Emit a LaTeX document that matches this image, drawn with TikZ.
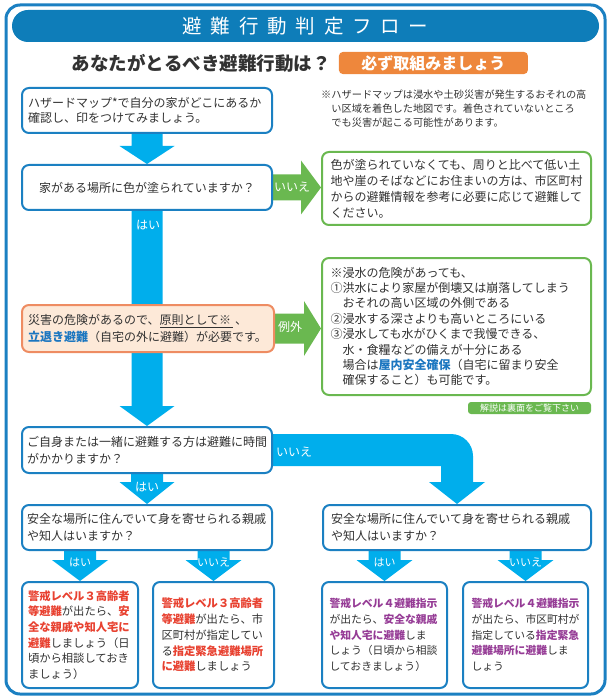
\documentclass[tikz,border=0pt]{standalone}
\usepackage{fontspec}
\setmainfont{Noto Sans CJK JP}
\newfontfamily\spacedcjk[LetterSpace=45]{Noto Sans CJK JP}
\usetikzlibrary{calc,positioning,backgrounds}

\definecolor{frameblue}{RGB}{27,128,194}
\definecolor{titleblue}{RGB}{14,125,185}
\definecolor{flowblue}{RGB}{0,174,236}
\definecolor{okgreen}{RGB}{106,184,80}
\definecolor{badgeorange}{RGB}{238,135,60}
\definecolor{dangerfill}{RGB}{253,233,216}
\definecolor{dangerline}{RGB}{238,140,98}
\definecolor{ink}{RGB}{50,50,50}
\definecolor{keyblue}{RGB}{27,118,192}
\definecolor{warnredc}{RGB}{232,65,48}
\definecolor{warnpurplec}{RGB}{150,60,150}

\newcommand\warnred[1]{\textcolor{warnredc}{\bfseries #1}}
\newcommand\warnpurple[1]{\textcolor{warnpurplec}{\bfseries #1}}
\newcommand\keyterm[1]{\textcolor{keyblue}{\bfseries #1}}

\begin{document}
\begin{tikzpicture}[
        x=1pt, y=-1pt,
        qbox/.style={draw=frameblue, line width=2pt, fill=white, rounded corners=7pt,
            inner sep=0pt, align=left, text=ink},
        gbox/.style={qbox, draw=okgreen},
        obox/.style={qbox, draw=dangerline, fill=dangerfill},
        lbl/.style={text=white, inner sep=0pt, font=\fontsize{12}{12}\selectfont},
        slbl/.style={lbl, font=\fontsize{11}{11}\selectfont},
        mid/.style={font=\fontsize{12}{17}\selectfont},
        small/.style={font=\fontsize{11.3}{15.7}\selectfont},
        narrow/.style={font=\fontsize{10.8}{15.7}\selectfont},
    ]
    \useasboundingbox (0,0) rectangle (611,700);

    % frame and heading
    \draw[frameblue, line width=3pt, rounded corners=14pt] (6,5) rectangle (605,694);
    \node[fill=titleblue, rounded corners=16pt, minimum width=587, minimum height=32,
        text=white, font=\spacedcjk\fontsize{19.5}{19.5}\selectfont] (title) at (305.5,26) {避難行動判定フロー};
    \node[text=ink, font=\bfseries\fontsize{18.5}{18.5}\selectfont, inner sep=0pt] (question) at (201,63) {あなたがとるべき避難行動は？};
    \node[fill=badgeorange, rounded corners=4pt, minimum width=189, minimum height=22, text=white,
        font=\bfseries\fontsize{16}{16}\selectfont, right=8pt of question] (must) {必ず取組みましょう};

    % first questions
    \node[qbox, minimum width=250, minimum height=45, text width=238,
        font=\fontsize{12}{15}\selectfont] (hazard) at (147,110.5)
        {ハザードマップ*で自分の家がどこにあるか\\確認し、印をつけてみましょう。};
    \node[text=ink, align=left, inner sep=0pt, anchor=west, font=\fontsize{10.2}{13.7}\selectfont] (mapnote) at (321,108.5)
        {※ハザードマップは浸水や土砂災害が発生するおそれの高\\
         \hspace*{1em}い区域を着色した地図です。着色されていないところ\\
         \hspace*{1em}でも災害が起こる可能性があります。};
    \node[qbox, align=center, minimum width=250, minimum height=45,
        font=\fontsize{12}{15}\selectfont] (colour) at (147,187.5) {家がある場所に色が塗られていますか？};
    \node[gbox, minimum width=269, minimum height=73, text width=252,
        font=\fontsize{12}{16}\selectfont] (noteA) at (456.5,188.5)
        {色が塗られていなくても、周りと比べて低い土\\地や崖のそばなどにお住まいの方は、市区町村\\
         からの避難情報を参考に必要に応じて避難して\\ください。};

    % evacuation rule and exception
    \node[obox, minimum width=252, minimum height=47, text width=240, mid] (danger) at (148,328.5)
        {災害の危険があるので、原則として※\ 、\\
         \keyterm{立退き避難}（自宅の外に避難）が必要です。};
    \draw[ink, line width=1pt] ($(danger.west)+(139,-1.5)$) -- ($(danger.west)+(212,-1.5)$);
    \node[gbox, minimum width=269, minimum height=137, text width=252,
        font=\fontsize{12}{15.4}\selectfont] (noteB) at (456.5,326.5)
        {※浸水の危険があっても、\\
         ①洪水により家屋が倒壊又は崩落してしまう\\
         \hspace*{1em}おそれの高い区域の外側である\\
         ②浸水する深さよりも高いところにいる\\
         ③浸水しても水がひくまで我慢できる、\\
         \hspace*{1em}水・食糧などの備えが十分にある\\
         \hspace*{1em}場合は\keyterm{屋内安全確保}（自宅に留まり安全\\
         \hspace*{1em}確保すること）も可能です。};
    \node[fill=okgreen, rounded corners=3pt, minimum width=123, minimum height=12, inner sep=0pt,
        text=white, font=\fontsize{9}{9}\selectfont] (backnote) at (529.5,408) {解説は裏面をご覧下さい};

    % time and shelter questions
    \node[qbox, minimum width=250, minimum height=46, text width=240, mid] (decide) at (147,450)
        {ご自身または一緒に避難する方は避難に時間\\がかかりますか？};
    \node[qbox, minimum width=250, minimum height=45, text width=240, mid] (haveL) at (147,527.5)
        {安全な場所に住んでいて身を寄せられる親戚\\や知人はいますか？};
    \node[qbox, minimum width=268, minimum height=45, text width=252, mid] (haveR) at (457,527.5)
        {安全な場所に住んでいて身を寄せられる親戚\\や知人はいますか？};

    % outcomes
    \node[qbox, minimum width=116, minimum height=106, text width=104, small] (leftYes) at (80,635)
        {\warnred{警戒レベル３高齢者}\\
         \warnred{等避難}が出たら、\warnred{安}\\
         \warnred{全な親戚や知人宅に}\\
         \warnred{避難}しましょう（日\\
         頃から相談しておき\\
         ましょう）};
    \node[qbox, minimum width=121, minimum height=106, text width=104, small] (leftNo) at (213.5,635)
        {\warnred{警戒レベル３高齢者}\\
         \warnred{等避難}が出たら、市\\
         区町村が指定してい\\
         る\warnred{指定緊急避難場所}\\
         \warnred{に避難}しましょう};
    \node[qbox, minimum width=125, minimum height=106, text width=110, narrow] (rightYes) at (384.5,635)
        {\warnpurple{警戒レベル４避難指示}\\
         が出たら、\warnpurple{安全な親戚}\\
         \warnpurple{や知人宅に避難}しま\\
         しょう（日頃から相談\\
         しておきましょう）};
    \node[qbox, minimum width=125, minimum height=106, text width=108, narrow] (rightNo) at (525.5,635)
        {\warnpurple{警戒レベル４避難指示}\\
         が出たら、市区町村が\\
         指定している\warnpurple{指定緊急}\\
         \warnpurple{避難場所に避難}しま\\
         しょう};

    % block arrows
    \coordinate (gA) at (noteA.west |- colour.east);
    \coordinate (gB) at (noteB.west |- danger.east);
    \coordinate (bend) at (haveR.north |- decide.east);
    \coordinate (yesL) at (leftYes.north |- haveL.south);
    \coordinate (noL) at (leftNo.north |- haveL.south);
    \coordinate (yesR) at (rightYes.north |- haveR.south);
    \coordinate (noR) at (rightNo.north |- haveR.south);
    \begin{scope}[on background layer]
        \fill[flowblue] ($(hazard.south)+(-15.5,-3)$) -- ($(hazard.south)+(-15.5,12)$) -- ($(hazard.south)+(-27.5,12)$)
            -- (colour.north) -- ($(hazard.south)+(27.5,12)$) -- ($(hazard.south)+(15.5,12)$)
            -- ($(hazard.south)+(15.5,-3)$) -- cycle;
        \fill[flowblue] ($(colour.south)+(-15.5,-3)$) -- ($(decide.north)+(-15.5,-20)$) -- ($(decide.north)+(-27.5,-20)$)
            -- (decide.north) -- ($(decide.north)+(27.5,-20)$) -- ($(decide.north)+(15.5,-20)$)
            -- ($(colour.south)+(15.5,-3)$) -- cycle;
        \fill[flowblue] ($(decide.south)+(-16,-3)$) -- ($(haveL.north)+(-16,-22)$) -- ($(haveL.north)+(-27.5,-22)$)
            -- (haveL.north) -- ($(haveL.north)+(27.5,-22)$) -- ($(haveL.north)+(16,-22)$)
            -- ($(decide.south)+(16,-3)$) -- cycle;
        \fill[flowblue] ($(decide.east)+(-3,-16)$) -- ($(bend)+(-6,-16)$)
            .. controls ($(bend)+(6.15,-16)$) and ($(bend)+(16,-6.15)$) .. ($(bend)+(16,6)$)
            -- ($(haveR.north)+(16,-22)$) -- ($(haveR.north)+(28,-22)$) -- (haveR.north)
            -- ($(haveR.north)+(-28,-22)$) -- ($(haveR.north)+(-16,-22)$) -- ($(bend)+(-16,16)$)
            -- ($(decide.east)+(-3,16)$) -- cycle;
        \fill[flowblue] ($(yesL)+(-16,-3)$) -- ($(leftYes.north)+(-16,-21)$) -- ($(leftYes.north)+(-28,-21)$)
            -- (leftYes.north) -- ($(leftYes.north)+(28,-21)$) -- ($(leftYes.north)+(16,-21)$)
            -- ($(yesL)+(16,-3)$) -- cycle;
        \fill[flowblue] ($(noL)+(-16,-3)$) -- ($(leftNo.north)+(-16,-21)$) -- ($(leftNo.north)+(-28,-21)$)
            -- (leftNo.north) -- ($(leftNo.north)+(28,-21)$) -- ($(leftNo.north)+(16,-21)$)
            -- ($(noL)+(16,-3)$) -- cycle;
        \fill[flowblue] ($(yesR)+(-16,-3)$) -- ($(rightYes.north)+(-16,-21)$) -- ($(rightYes.north)+(-28,-21)$)
            -- (rightYes.north) -- ($(rightYes.north)+(28,-21)$) -- ($(rightYes.north)+(16,-21)$)
            -- ($(yesR)+(16,-3)$) -- cycle;
        \fill[flowblue] ($(noR)+(-16,-3)$) -- ($(rightNo.north)+(-16,-21)$) -- ($(rightNo.north)+(-28,-21)$)
            -- (rightNo.north) -- ($(rightNo.north)+(28,-21)$) -- ($(rightNo.north)+(16,-21)$)
            -- ($(noR)+(16,-3)$) -- cycle;
        \fill[okgreen] ($(colour.east)+(-3,-13)$) -- ($(gA)+(-20,-13)$) -- ($(gA)+(-20,-27)$) -- (gA)
            -- ($(gA)+(-20,27)$) -- ($(gA)+(-20,13)$) -- ($(colour.east)+(-3,13)$) -- cycle;
        \fill[okgreen] ($(danger.east)+(-3,-15)$) -- ($(gB)+(-17,-15)$) -- ($(gB)+(-17,-27.5)$) -- (gB)
            -- ($(gB)+(-17,27.5)$) -- ($(gB)+(-17,15)$) -- ($(danger.east)+(-3,15)$) -- cycle;
    \end{scope}

    % arrow labels
    \node[lbl] (noColour) at (292,187) {いいえ};
    \node[lbl] (yesColour) at (148,225) {はい};
    \node[lbl] (except) at (290,327) {例外};
    \node[lbl] (noTime) at (294,452) {いいえ};
    \node[lbl] (yesTime) at (147,487) {はい};
    \node[slbl] (yesLeft) at ($(leftYes.north)+(0,-19)$) {はい};
    \node[slbl] (noLeft) at ($(leftNo.north)+(0,-19)$) {いいえ};
    \node[slbl] (yesRight) at ($(rightYes.north)+(0,-19)$) {はい};
    \node[slbl] (noRight) at ($(rightNo.north)+(0,-19)$) {いいえ};
\end{tikzpicture}
\end{document}
